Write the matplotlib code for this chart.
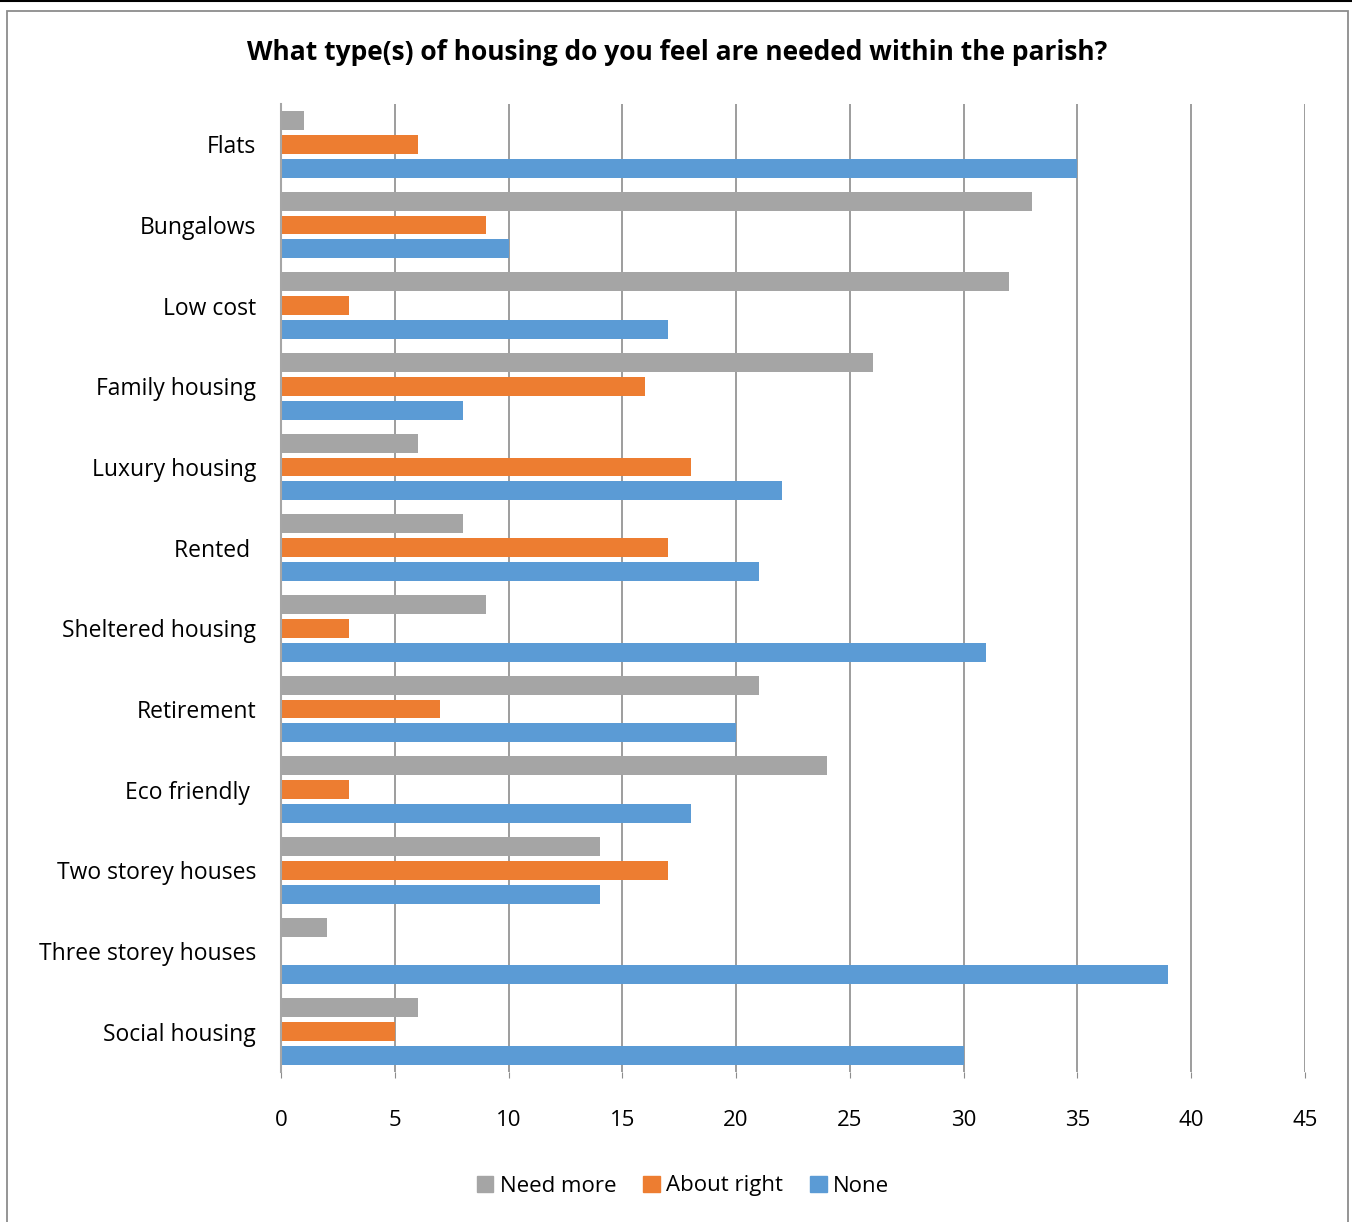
import matplotlib
matplotlib.use("Agg")
import matplotlib.pyplot as plt
import numpy as np
from matplotlib.patches import Rectangle
from matplotlib.lines import Line2D

plt.rcParams['font.family'] = ['Open Sans', 'DejaVu Sans']

categories = ["Flats", "Bungalows", "Low cost", "Family housing", "Luxury housing",
              "Rented ", "Sheltered housing", "Retirement", "Eco friendly ",
              "Two storey houses", "Three storey houses", "Social housing"]
need_more = [1, 33, 32, 26, 6, 8, 9, 21, 24, 14, 2, 6]
about_right = [6, 9, 3, 16, 18, 17, 3, 7, 3, 17, 0, 5]
none_vals = [35, 10, 17, 8, 22, 21, 31, 20, 18, 14, 39, 30]
series_names = ["Need more", "About right", "None"]
colors = ["#A5A5A5", "#ED7D31", "#5B9BD5"]
xticks = [0, 5, 10, 15, 20, 25, 30, 35, 40, 45]

W, H = 1352, 1222
fig = plt.figure(figsize=(W / 100, H / 100), dpi=100)

# outer frame
fig.add_artist(Line2D([0, 1], [1 - 1 / H, 1 - 1 / H], color="black", lw=1.5, transform=fig.transFigure))
fig.add_artist(Rectangle((7 / W, -0.01), (1348 - 7) / W, (H - 11) / H + 0.01, fill=False,
                         edgecolor="#8C8C8C", lw=1.3, transform=fig.transFigure))

ax = fig.add_axes([281 / W, 1 - 1072 / H, (1305 - 281) / W, (1072 - 104) / H])

y = np.arange(len(categories))
off = 0.296
h = 0.235
data = [need_more, about_right, none_vals]
for i, (vals, c, name) in enumerate(zip(data, colors, series_names)):
    ax.barh(y + (i - 1) * off, vals, height=h, color=c, label=name, zorder=3)

ax.set_xlim(0, 45)
ax.set_ylim(len(categories) - 0.5, -0.5)
ax.set_xticks(xticks)
ax.set_xticklabels([str(t) for t in xticks], fontsize=16)
ax.set_yticks(y)
ax.set_yticklabels(categories, fontsize=16.5)
ax.tick_params(axis='y', length=0, pad=18)
ax.tick_params(axis='x', length=4, color="#8C8C8C", pad=23)
ax.grid(axis='x', color="#8C8C8C", lw=1.2, zorder=0)
for s in ["top", "right", "bottom"]:
    ax.spines[s].set_visible(False)
ax.spines["left"].set_color("#A6A6A6")
ax.spines["left"].set_linewidth(1.5)
ax.spines["left"].set_zorder(4)

fig.text(677 / W, 1 - 52 / H, "What type(s) of housing do you feel are needed within the parish?",
         ha="center", va="center", fontsize=19, fontweight="bold")

handles = [Rectangle((0, 0), 1, 1, color=c) for c in colors]
fig.legend(handles, series_names, loc="center", bbox_to_anchor=(683 / W, 1 - 1186 / H),
           ncol=3, frameon=False, fontsize=16, handlelength=0.75, handleheight=0.75,
           handletextpad=0.3, columnspacing=1.2)

fig.savefig("out.png", dpi=100)
